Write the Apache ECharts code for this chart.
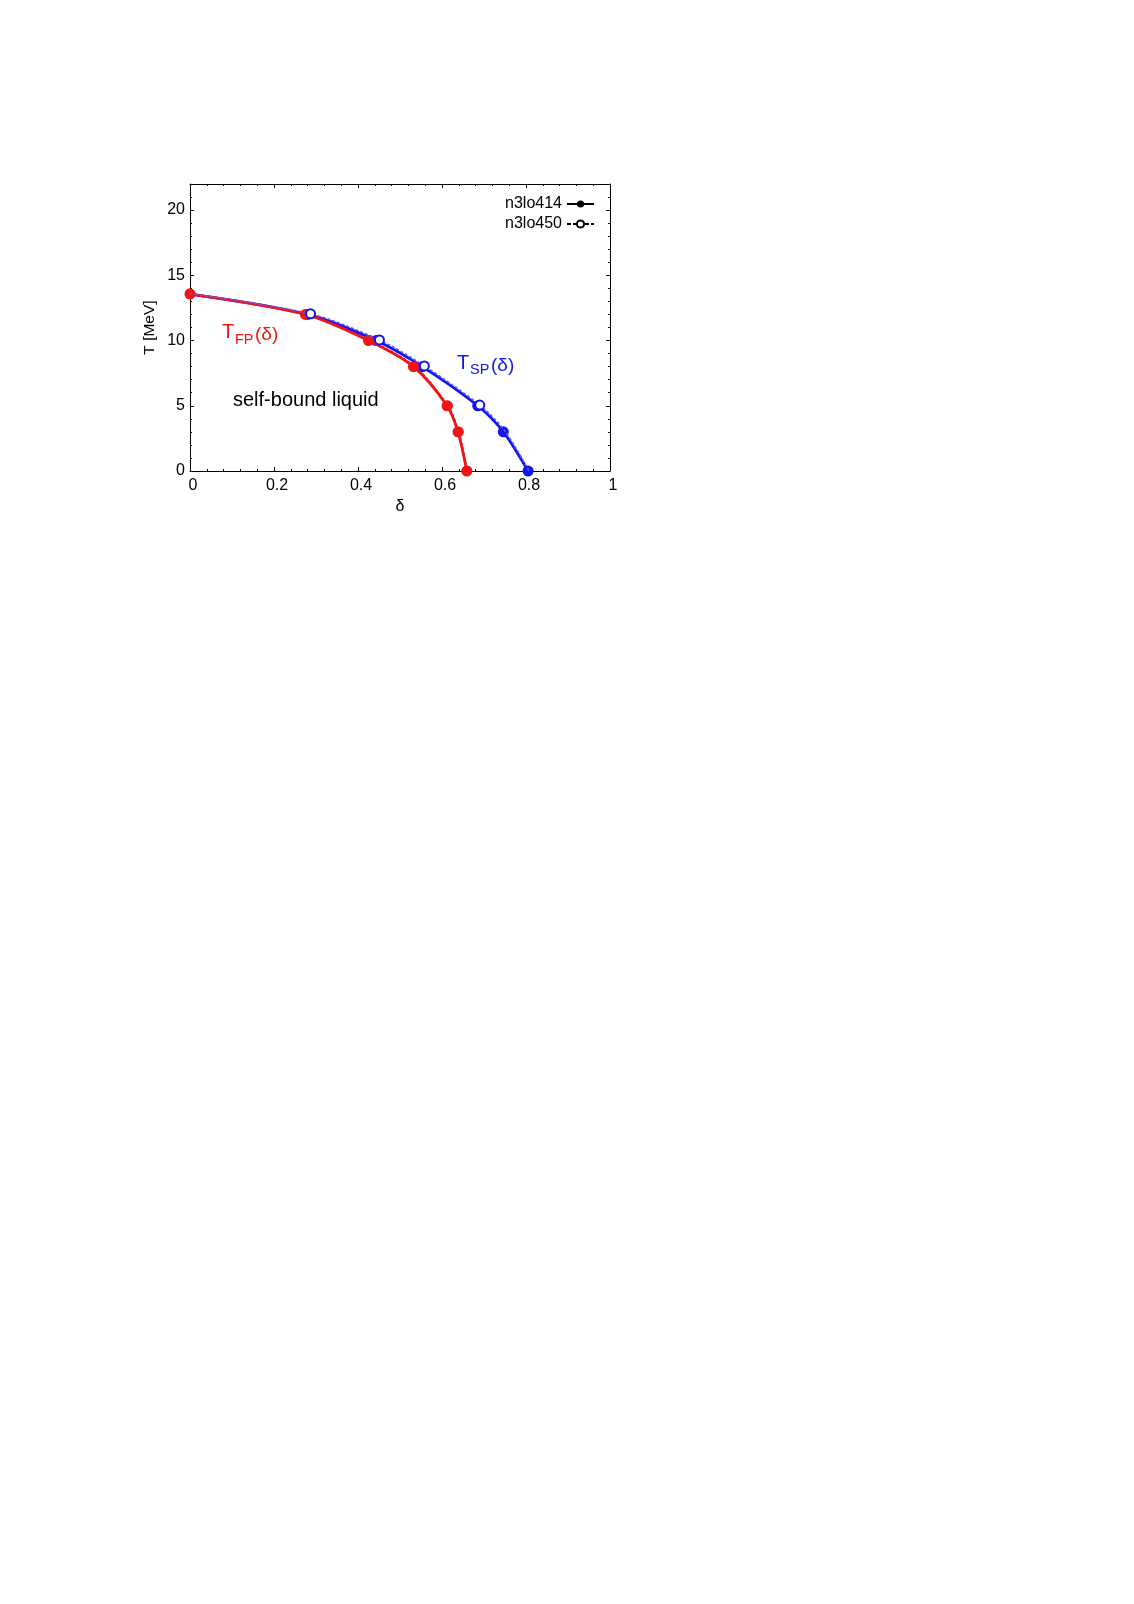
<!DOCTYPE html>
<html>
<head>
<meta charset="utf-8">
<script src="https://cdn.jsdelivr.net/npm/echarts@6/dist/echarts.min.js"></script>
<style>
  html, body { margin: 0; padding: 0; background: #fff; }
  #chart { width: 1134px; height: 1604px; }
</style>
</head>
<body>
<div id="chart"></div>
<script>
// T_FP(delta), n3lo414 (solid) and n3lo450 (dashed)
const fp414 = [[0, 13.56], [0.275, 12], [0.425, 10], [0.532, 8], [0.612, 5], [0.638, 3], [0.659, 0]];
const fp450 = [[0, 13.6], [0.28, 12.02], [0.428, 10.02], [0.535, 8.02], [0.614, 5], [0.64, 3], [0.66, 0]];
// T_SP(delta)
const sp414 = [[0, 13.56], [0.28, 12], [0.443, 10], [0.553, 8], [0.685, 5], [0.746, 3], [0.805, 0]];
const sp450 = [[0, 13.6], [0.287, 12.05], [0.451, 10.05], [0.558, 8.05], [0.69, 5.05], [0.75, 3.05], [0.807, 0.02]];

const RED = '#f21414';
const BLUE = '#1414f2';
const FONT = 'Liberation Sans';

const chart = echarts.init(document.getElementById('chart'));

const line = { show: true, onZero: false, lineStyle: { color: '#000', width: 1 } };

const xBase = {
  type: 'value', min: 0, max: 1, interval: 0.2,
  axisLine: line,
  axisTick: { inside: true, length: 4, lineStyle: { color: '#000' } },
  minorTick: { show: true, splitNumber: 5, length: 2, lineStyle: { color: '#000' } },
  splitLine: { show: false }
};
const yMinor = {
  type: 'value', min: 0, max: 22, interval: 1,
  axisLine: line,
  axisTick: { inside: true, length: 2, lineStyle: { color: '#000' } },
  splitLine: { show: false }
};
const yMajor = {
  type: 'value', min: 0, max: 22, interval: 5,
  axisLine: { show: false, onZero: false },
  axisTick: { inside: true, length: 4, lineStyle: { color: '#000' } },
  axisLabel: { show: false },
  splitLine: { show: false }
};

// hide markers where the reference shows none (delta = 0 on the SP curves, low T open circles)
const spFilled = sp414.map((p, i) => (i === 0 ? { value: p, symbol: 'none' } : p));
const spOpen = sp450.map((p, i) => (i === 0 || i > 4 ? { value: p, symbol: 'none' } : p));

const option = {
  animation: false,
  textStyle: { fontFamily: FONT },
  grid: { left: 190, top: 184, width: 420, height: 287 },
  xAxis: [
    Object.assign({}, xBase, {
      position: 'bottom',
      name: 'δ', nameLocation: 'middle', nameGap: 28,
      nameTextStyle: { fontSize: 16, color: '#000', fontFamily: FONT },
      axisLabel: { fontSize: 16, color: '#000', margin: 7, padding: [0, 0, 0, 6], fontFamily: FONT }
    }),
    Object.assign({}, xBase, { position: 'top', axisLabel: { show: false } })
  ],
  yAxis: [
    Object.assign({}, yMinor, {
      position: 'left',
      name: 'T [MeV]', nameLocation: 'middle', nameGap: 32,
      nameTextStyle: { fontSize: 15.5, color: '#000', fontFamily: FONT },
      axisLabel: {
        fontSize: 16, color: '#000', margin: 5, fontFamily: FONT,
        formatter: v => (v % 5 === 0 ? String(v) : '')
      }
    }),
    Object.assign({}, yMinor, { position: 'right', axisLabel: { show: false } }),
    Object.assign({}, yMajor, { position: 'left' }),
    Object.assign({}, yMajor, { position: 'right' })
  ],
  legend: {
    orient: 'vertical', right: 539, top: 196, align: 'right', padding: 0,
    itemWidth: 27, itemHeight: 9, itemGap: 4, selectedMode: false,
    textStyle: { fontSize: 16, color: '#000', fontFamily: FONT },
    data: ['n3lo414', 'n3lo450']
  },
  series: [
    // legend-only entries
    { name: 'n3lo414', type: 'line', data: [], color: '#000', symbol: 'circle', symbolSize: 8,
      lineStyle: { width: 2, color: '#000' }, itemStyle: { color: '#000' } },
    { name: 'n3lo450', type: 'line', data: [], color: '#000', symbol: 'emptyCircle', symbolSize: 7,
      lineStyle: { width: 1.2, type: [4, 2], color: '#000' }, itemStyle: { color: '#000', borderWidth: 1.5 } },

    { name: 'FP 450', type: 'line', data: fp450, smooth: 0.3, z: 1,
      symbol: 'circle', symbolSize: 10, itemStyle: { color: RED },
      lineStyle: { width: 1.5, type: [3, 2], color: RED } },
    { name: 'SP 414', type: 'line', data: spFilled, smooth: 0.3, z: 2,
      symbol: 'circle', symbolSize: 11, itemStyle: { color: BLUE },
      lineStyle: { width: 2.8, color: BLUE } },
    { name: 'FP 414', type: 'line', data: fp414, smooth: 0.3, z: 3,
      symbol: 'circle', symbolSize: 11, itemStyle: { color: RED },
      lineStyle: { width: 2.8, color: RED } },
    { name: 'SP 450', type: 'line', data: spOpen, smooth: 0.3, z: 4,
      symbol: 'emptyCircle', symbolSize: 9,
      itemStyle: { color: BLUE, borderColor: BLUE, borderWidth: 2.2 },
      lineStyle: { width: 1.5, type: [3, 2], color: '#5a5aff' } }
  ],
  graphic: [
    { type: 'text', x: 222, y: 332, style: { text: 'T', fontSize: 20, fill: RED, fontFamily: FONT, verticalAlign: 'middle' } },
    { type: 'text', x: 235, y: 339.5, style: { text: 'FP', fontSize: 14.5, fill: RED, fontFamily: FONT, verticalAlign: 'middle' } },
    { type: 'text', x: 255, y: 334.5, style: { text: '(δ)', fontSize: 19, fill: RED, fontFamily: FONT, verticalAlign: 'middle' } },

    { type: 'text', x: 457, y: 363, style: { text: 'T', fontSize: 20, fill: BLUE, fontFamily: FONT, verticalAlign: 'middle' } },
    { type: 'text', x: 470, y: 369.5, style: { text: 'SP', fontSize: 14.5, fill: BLUE, fontFamily: FONT, verticalAlign: 'middle' } },
    { type: 'text', x: 491, y: 365.5, style: { text: '(δ)', fontSize: 19, fill: BLUE, fontFamily: FONT, verticalAlign: 'middle' } },

    { type: 'text', x: 233, y: 400, style: { text: 'self-bound liquid', fontSize: 20, fill: '#000', fontFamily: FONT, verticalAlign: 'middle' } }
  ]
};

chart.setOption(option);
</script>
</body>
</html>
